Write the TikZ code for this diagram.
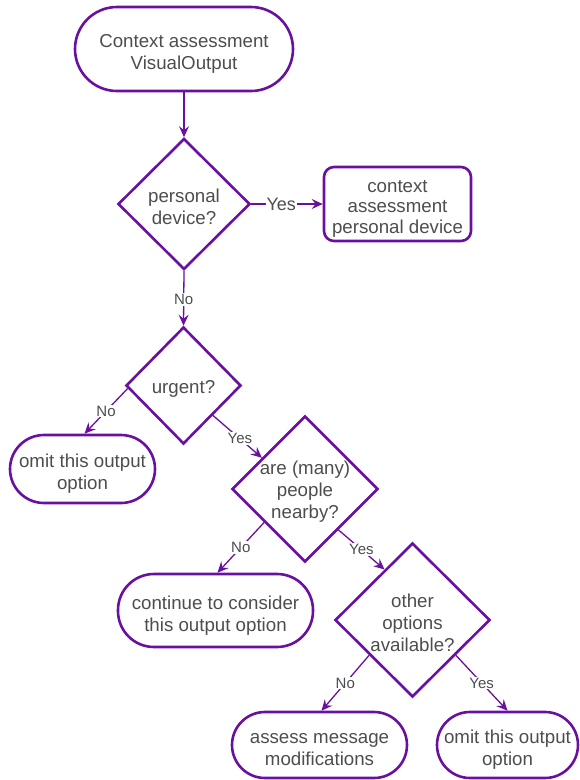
\documentclass[tikz,border=0pt]{standalone}
\usepackage{fontspec}
\setmainfont{Liberation Sans}
\usetikzlibrary{shapes.geometric,arrows.meta,calc}
\definecolor{pur}{RGB}{106,16,160}
\definecolor{txt}{RGB}{77,77,77}
\tikzset{
  base/.style={draw=pur, line width=2.6pt, inner sep=0pt},
  term/.style={base, rectangle, rounded corners=#1},
  procbox/.style={base, rectangle, rounded corners=10pt},
  decision/.style={base, diamond, aspect=1},
  body/.style={text=txt, align=center, inner sep=0pt, font=\fontsize{18.7}{22}\selectfont},
  conn/.style={draw=pur, line width=1.3pt, -{Stealth[length=11pt,width=10pt,inset=4pt]}},
  lbl/.style={fill=white, text=txt, inner sep=1pt, font=\fontsize{15}{17}\selectfont},
  biglbl/.style={fill=white, text=txt, inner sep=1pt, font=\fontsize{18}{20}\selectfont},
}
\begin{document}
\begin{tikzpicture}[x=1pt,y=-1pt]
\useasboundingbox (0,0) rectangle (579,780);

\node[term=42pt, minimum width=218pt, minimum height=84pt] (start) at (184,49) {};
\node[body] (startt) at (184,53.5) {Context assessment\\VisualOutput};

\node[decision, minimum width=132pt, minimum height=131pt] (pd) at (184,204) {};
\node[body] (pdt) at (184,207) {personal\\device?};

\node[procbox, minimum width=147pt, minimum height=74pt] (cap) at (397.5,204) {};
\node[body, font=\fontsize{18.7}{20.5}\selectfont] (capt) at (397.5,208.5) {context\\assessment\\personal device};

\node[decision, minimum width=115pt, minimum height=117pt] (urg) at (183.5,385.5) {};
\node[body] (urgt) at (183.5,388.5) {urgent?};

\node[term=34pt, minimum width=145pt, minimum height=68pt] (omitA) at (82.5,469) {};
\node[body] (omitAt) at (82.5,474) {omit this output\\option};

\node[decision, minimum width=146pt, minimum height=146pt] (ppl) at (305,489) {};
\node[body] (pplt) at (305,492) {are (many)\\people\\nearby?};

\node[term=36pt, minimum width=195pt, minimum height=73pt] (cont) at (215.5,610.5) {};
\node[body] (contt) at (215.5,615.5) {continue to consider\\this output option};

\node[decision, minimum width=155pt, minimum height=154pt] (oth) at (412.5,620) {};
\node[body] (otht) at (412.5,622.5) {other\\options\\available?};

\node[term=33pt, minimum width=175pt, minimum height=66pt] (assess) at (319.5,745) {};
\node[body] (assesst) at (319.5,750) {assess message\\modifications};

\node[term=33pt, minimum width=141pt, minimum height=66pt] (omitB) at (507.5,745) {};
\node[body] (omitBt) at (507.5,750) {omit this output\\option};

% connectors
\draw[conn] (start.south) -- (pd.north);
\draw[conn] (pd.east) -- node[biglbl, pos=0.42] {Yes} (cap.west);
\draw[conn] (pd.south) -- node[lbl, pos=0.52] {No} (urg.north);

\coordinate (uN) at ($(urg.west)!0.05!(urg.south)$);
\draw[conn] (uN) -- node[lbl] {No} ([xshift=2pt]omitA.north);

\coordinate (uY) at ($(urg.south)!0.5!(urg.east)$);
\coordinate (pIn) at ($(ppl.west)!0.42!(ppl.north)$);
\draw[conn] (uY) -- node[lbl, pos=0.55] {Yes} (pIn);

\coordinate (pN) at ($(ppl.west)!0.45!(ppl.south)$);
\draw[conn] (pN) -- node[lbl, pos=0.5] {No} ([xshift=2pt]cont.north);

\coordinate (pY) at ($(ppl.south)!0.45!(ppl.east)$);
\coordinate (oIn) at ($(oth.west)!0.645!(oth.north)$);
\draw[conn] (pY) -- node[lbl, pos=0.5] {Yes} (oIn);

\coordinate (oN) at ($(oth.west)!0.45!(oth.south)$);
\draw[conn] (oN) -- node[lbl, pos=0.5] {No} ([xshift=2pt]assess.north);

\coordinate (oY) at ($(oth.south)!0.55!(oth.east)$);
\draw[conn] (oY) -- node[lbl, pos=0.5] {Yes} (omitB.north);
\end{tikzpicture}
\end{document}
